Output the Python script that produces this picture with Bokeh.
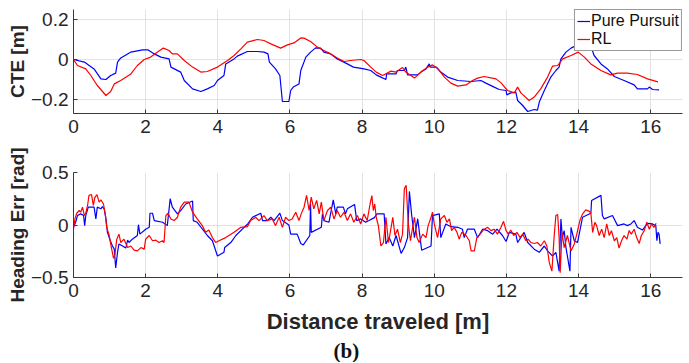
from bokeh.plotting import figure
from bokeh.layouts import column
from bokeh.models import Range1d, FixedTicker, Legend, LegendItem, Title
from bokeh.embed import file_html
from bokeh.resources import INLINE

# ---------------- data ----------------
x_ticks = [0, 2, 4, 6, 8, 10, 12, 14, 16]
x_tick_labels = ["0", "2", "4", "6", "8", "10", "12", "14", "16"]
cte_ticks = [-0.2, 0, 0.2]
cte_tick_labels = ["\u22120.2", "0", "0.2"]
he_ticks = [-0.5, 0, 0.5]
he_tick_labels = ["\u22120.5", "0", "0.5"]
series_names = ["Pure Pursuit", "RL"]

cte_pursuit = [(0, 0), (0.3, -0.013), (0.57, -0.047), (0.76, -0.097), (0.9, -0.1), (1.03, -0.08),
    (1.17, -0.068), (1.22, -0.013), (1.31, 0.008), (1.5, 0.028), (1.59, 0.037), (1.91, 0.048),
    (2.07, 0.048), (2.24, 0.028), (2.42, 0.012), (2.65, 0.003), (2.7, -0.038), (2.97, -0.063),
    (3.07, -0.105), (3.3, -0.147), (3.53, -0.16), (3.71, -0.147), (3.9, -0.13), (3.99, -0.105),
    (4.17, -0.08), (4.22, -0.022), (4.45, 0.003), (4.54, 0.017), (4.82, 0.04), (5.1, 0.04),
    (5.28, 0.037), (5.39, 0.028), (5.43, -0.013), (5.6, -0.047), (5.72, -0.08), (5.79, -0.21),
    (5.97, -0.21), (6.02, -0.155), (6.09, -0.138), (6.25, -0.122), (6.3, -0.055), (6.44, 0.012),
    (6.57, 0.037), (6.71, 0.058), (6.85, 0.057), (6.94, 0.037), (7.13, 0.028), (7.31, 0.003),
    (7.59, -0.022), (7.76, -0.038), (8.05, -0.047), (8.24, -0.055), (8.39, -0.077), (8.52, -0.088),
    (8.66, -0.1), (8.68, -0.072), (8.94, -0.072), (8.98, -0.055), (9.17, -0.055), (9.21, -0.038),
    (9.26, -0.077), (9.54, -0.077), (9.63, -0.063), (9.77, -0.047), (9.86, -0.022), (9.89, -0.038),
    (10.05, -0.038), (10.18, -0.063), (10.37, -0.088), (10.65, -0.105), (11.02, -0.11), (11.29, -0.105),
    (11.43, -0.118), (11.66, -0.138), (11.8, -0.15), (11.99, -0.155), (12.01, -0.177), (12.12, -0.167),
    (12.26, -0.163), (12.31, -0.205), (12.45, -0.23), (12.59, -0.26), (12.77, -0.25), (12.86, -0.253),
    (12.91, -0.213), (13.05, -0.155), (13.23, -0.088), (13.37, -0.055), (13.46, -0.038), (13.51, 0.003),
    (13.65, 0.037), (13.79, 0.057), (13.97, 0.073), (14.06, 0.073), (14.34, 0.067), (14.43, 0.02),
    (14.62, -0.022), (14.8, -0.047), (14.99, -0.085), (15.26, -0.105), (15.54, -0.127), (15.63, -0.147),
    (15.91, -0.147), (15.96, -0.138), (16.05, -0.15), (16.23, -0.152)]

cte_rl = [(0, 0), (0.11, -0.03), (0.34, -0.047), (0.48, -0.08), (0.66, -0.13), (0.9, -0.18),
    (1.03, -0.16), (1.13, -0.122), (1.31, -0.105), (1.59, -0.072), (1.77, -0.03), (1.96, 0),
    (2.14, 0.012), (2.33, 0.037), (2.49, 0.057), (2.65, 0.045), (2.74, 0.028), (2.88, 0.028),
    (3.07, -0.005), (3.3, -0.038), (3.53, -0.063), (3.71, -0.06), (3.99, -0.038), (4.27, -0.005),
    (4.45, 0.02), (4.64, 0.053), (4.82, 0.087), (5.1, 0.1), (5.28, 0.095), (5.47, 0.078),
    (5.74, 0.057), (5.93, 0.073), (6.11, 0.083), (6.3, 0.108), (6.39, 0.107), (6.57, 0.09),
    (6.76, 0.062), (6.94, 0.045), (7.13, 0.028), (7.31, 0.007), (7.5, -0.01), (7.68, -0.005),
    (7.96, 0), (8.05, -0.005), (8.24, -0.038), (8.39, -0.063), (8.57, -0.08), (8.8, -0.058),
    (8.94, -0.063), (9.12, -0.04), (9.21, -0.063), (9.45, -0.093), (9.63, -0.063), (9.82, -0.038),
    (9.95, -0.027), (10.09, -0.043), (10.28, -0.088), (10.46, -0.118), (10.65, -0.133), (10.88, -0.127),
    (11.06, -0.105), (11.2, -0.093), (11.38, -0.085), (11.71, -0.097), (11.85, -0.117), (12.03, -0.155),
    (12.22, -0.167), (12.31, -0.138), (12.4, -0.167), (12.63, -0.205), (12.77, -0.188), (12.95, -0.147),
    (13.14, -0.088), (13.28, -0.033), (13.42, -0.03), (13.56, 0.003), (13.79, 0.02), (13.99, 0.037),
    (14.16, 0.012), (14.34, -0.022), (14.62, -0.055), (14.89, -0.077), (15.08, -0.068), (15.35, -0.068),
    (15.63, -0.075), (15.91, -0.097), (16.2, -0.112)]

heading_pursuit = [(0, -0.02), (0.06, 0.026), (0.11, 0.09), (0.2, 0.106), (0.28, 0.09), (0.31, -0.006),
    (0.34, 0.09), (0.41, 0.17), (0.57, 0.17), (0.62, 0.058), (0.66, 0.17), (0.76, 0.154), (0.8, 0.176),
    (0.85, 0.154), (0.9, 0.058), (0.94, -0.07), (1.02, -0.15), (1.08, -0.2), (1.13, -0.23), (1.17, -0.41),
    (1.22, -0.26), (1.26, -0.18), (1.36, -0.2), (1.45, -0.22), (1.5, -0.144), (1.54, -0.167), (1.63, -0.135),
    (1.77, -0.1), (1.8, 0.003), (1.84, -0.087), (2.0, -0.04), (2.1, -0.022), (2.12, 0.112), (2.19, 0.112),
    (2.24, 0.042), (2.47, 0.026), (2.6, -0.006), (2.68, 0.25), (2.74, 0.17), (2.88, 0.106), (2.97, 0.138),
    (3.11, 0.2), (3.3, 0.228), (3.32, 0.042), (3.43, 0.026), (3.57, -0.038), (3.71, -0.1), (3.85, -0.15),
    (3.99, -0.295), (4.17, -0.26), (4.19, -0.215), (4.36, -0.167), (4.5, -0.1), (4.73, -0.022), (4.83, 0.01),
    (4.96, 0.074), (5.19, 0.112), (5.24, 0.042), (5.37, 0.042), (5.47, 0.074), (5.56, 0.042), (5.72, 0.112),
    (5.79, 0.042), (5.97, 0), (6.02, -0.087), (6.2, -0.087), (6.3, -0.176), (6.37, -0.19), (6.55, -0.1),
    (6.57, 0.2), (6.59, -0.07), (6.87, -0.022), (6.9, 0.106), (6.94, 0.042), (7.08, 0.026), (7.2, 0.24),
    (7.27, 0.106), (7.31, 0.17), (7.48, 0.17), (7.54, 0.106), (7.59, 0.154), (7.79, 0.196), (7.85, 0.042),
    (7.96, 0.058), (8.1, 0.026), (8.19, 0.042), (8.34, 0.07), (8.41, 0.106), (8.61, 0.106), (8.66, -0.18),
    (8.75, -0.12), (8.85, -0.2), (8.94, -0.1), (9.08, -0.27), (9.17, -0.215), (9.26, -0.12), (9.31, 0.32),
    (9.37, 0.106), (9.45, -0.12), (9.54, 0.058), (9.65, -0.24), (9.91, -0.2), (9.95, 0.09), (10.14, 0.106),
    (10.18, -0.12), (10.32, 0.01), (10.46, -0.016), (10.65, -0.022), (10.78, -0.04), (10.83, -0.12),
    (10.92, -0.04), (11.11, -0.04), (11.2, -0.12), (11.34, -0.04), (11.48, -0.054), (11.62, -0.087),
    (11.74, -0.04), (11.89, -0.1), (11.99, -0.157), (12.08, -0.07), (12.26, -0.087), (12.31, -0.167),
    (12.49, -0.07), (12.59, -0.167), (12.77, -0.23), (12.91, -0.26), (13.05, -0.2), (13.14, -0.247),
    (13.28, -0.295), (13.37, -0.26), (13.46, -0.44), (13.51, 0.058), (13.55, -0.12), (13.6, -0.054),
    (13.65, -0.215), (13.76, -0.44), (13.79, -0.022), (13.88, -0.15), (13.97, -0.167), (14.11, 0.074),
    (14.34, 0.112), (14.36, 0.234), (14.62, 0.282), (14.66, 0.09), (14.71, 0.058), (14.94, 0.09),
    (15.08, -0.006), (15.26, 0.01), (15.35, -0.006), (15.45, 0.01), (15.54, 0.042), (15.63, -0.022),
    (15.77, -0.048), (15.91, 0.016), (16.05, 0.01), (16.14, -0.006), (16.17, -0.15), (16.2, -0.07),
    (16.23, -0.087), (16.26, -0.18)]

heading_rl = [(0, -0.04), (0.04, 0.058), (0.09, 0.112), (0.16, 0.138), (0.2, 0.122), (0.25, 0.17),
    (0.3, 0.09), (0.34, 0.112), (0.39, 0.186), (0.43, 0.282), (0.5, 0.29), (0.55, 0.186), (0.59, 0.26),
    (0.65, 0.29), (0.71, 0.218), (0.76, 0.24), (0.83, 0.2), (0.88, 0.106), (0.92, -0.022), (0.99, -0.1),
    (1.05, -0.215), (1.11, -0.317), (1.15, -0.28), (1.2, -0.135), (1.26, -0.087), (1.31, -0.167),
    (1.4, -0.135), (1.5, -0.215), (1.59, -0.2), (1.68, -0.24), (1.77, -0.247), (1.87, -0.215),
    (1.96, -0.23), (2.0, -0.135), (2.1, -0.1), (2.19, -0.15), (2.28, -0.144), (2.37, -0.167),
    (2.47, -0.15), (2.51, -0.167), (2.56, 0.09), (2.62, 0.112), (2.7, 0.058), (2.79, 0.042),
    (2.88, 0.074), (2.97, 0.17), (3.07, 0.218), (3.2, 0.218), (3.3, 0.122), (3.43, 0.058),
    (3.57, -0.006), (3.66, -0.07), (3.75, -0.048), (3.85, -0.12), (3.94, -0.167), (4.03, -0.15),
    (4.22, -0.12), (4.45, -0.07), (4.64, -0.022), (4.82, -0.016), (4.91, 0.042), (5.05, 0.074),
    (5.14, 0.042), (5.28, 0.09), (5.37, 0.042), (5.51, 0.058), (5.6, -0.006), (5.7, 0.074),
    (5.79, -0.022), (5.88, 0.074), (5.97, 0.042), (6.06, 0.058), (6.16, 0.122), (6.25, 0.042),
    (6.31, 0.106), (6.39, 0.17), (6.46, 0.282), (6.53, 0.138), (6.59, 0.266), (6.66, 0.154),
    (6.74, 0.234), (6.81, 0.106), (6.87, 0.218), (6.94, 0.042), (7.04, 0.138), (7.13, 0.17),
    (7.22, 0.058), (7.31, 0.138), (7.4, 0.074), (7.5, 0.122), (7.59, 0.042), (7.68, 0.106),
    (7.77, 0.026), (7.87, 0.09), (7.96, 0.01), (8.05, 0.106), (8.14, 0.042), (8.22, 0.2),
    (8.27, 0.28), (8.31, 0.138), (8.35, 0.2), (8.39, 0.074), (8.45, -0.006), (8.52, -0.2),
    (8.59, -0.167), (8.66, 0.074), (8.73, -0.167), (8.78, -0.07), (8.85, 0.074), (8.91, -0.1),
    (8.98, -0.04), (9.06, -0.167), (9.12, -0.087), (9.17, 0.346), (9.22, 0.378), (9.28, 0.01),
    (9.34, -0.15), (9.4, -0.022), (9.45, 0.074), (9.52, -0.12), (9.58, -0.167), (9.68, -0.087),
    (9.77, -0.12), (9.83, -0.006), (9.91, 0.074), (9.95, 0.122), (10.0, 0.01), (10.09, -0.12),
    (10.18, 0.058), (10.28, 0.09), (10.35, 0.026), (10.42, 0.058), (10.48, -0.054), (10.55, -0.022),
    (10.63, -0.07), (10.69, -0.135), (10.76, -0.07), (10.88, -0.1), (10.97, -0.15), (11.02, -0.247),
    (11.11, -0.247), (11.18, -0.12), (11.27, -0.087), (11.38, -0.04), (11.48, -0.022), (11.57, -0.054),
    (11.66, -0.04), (11.75, -0.087), (11.85, -0.022), (11.92, 0.035), (11.99, -0.054), (12.05, -0.087),
    (12.12, -0.048), (12.2, -0.1), (12.29, -0.07), (12.38, -0.12), (12.45, -0.087), (12.54, -0.15),
    (12.6, -0.135), (12.68, -0.167), (12.77, -0.176), (12.86, -0.167), (12.95, -0.2), (13.05, -0.15),
    (13.12, -0.2), (13.19, -0.36), (13.26, -0.44), (13.32, -0.12), (13.37, 0.09), (13.42, 0.1),
    (13.46, -0.12), (13.49, -0.455), (13.54, -0.07), (13.6, -0.215), (13.69, -0.1), (13.79, -0.247),
    (13.88, -0.18), (13.95, -0.087), (14.04, 0.048), (14.11, 0.106), (14.2, 0.144), (14.3, 0.13),
    (14.34, 0.112), (14.39, -0.07), (14.45, 0.026), (14.5, -0.006), (14.57, -0.1), (14.64, -0.04),
    (14.71, -0.12), (14.78, 0.01), (14.85, -0.1), (14.91, -0.054), (14.99, -0.15), (15.06, -0.12),
    (15.12, -0.22), (15.19, -0.15), (15.26, -0.1), (15.34, -0.135), (15.4, -0.054), (15.46, -0.087),
    (15.54, -0.04), (15.61, -0.12), (15.68, -0.176), (15.74, -0.1), (15.82, -0.054), (15.89, 0.026),
    (15.96, -0.04), (16.02, 0.01), (16.09, -0.022), (16.15, 0.016)]

# ---------------- styling ----------------
FONT = "Liberation Sans"
AX = "#3a3a3a"
GRID = "#e2e2e2"
BLUE = "#0000ff"
RED = "#ff0000"
LW = 1.2


def style(p, yticks, ylabels, ylabel):
    p.outline_line_color = None
    p.xaxis.ticker = FixedTicker(ticks=x_ticks)
    p.xaxis.major_label_overrides = dict(zip(x_ticks, x_tick_labels))
    p.yaxis.ticker = FixedTicker(ticks=yticks)
    p.yaxis.major_label_overrides = dict(zip(yticks, ylabels))
    for ax in (p.xaxis[0], p.yaxis[0]):
        ax.axis_line_color = AX
        ax.axis_line_width = 1
        ax.major_tick_line_color = AX
        ax.major_tick_in = 4
        ax.major_tick_out = 0
        ax.minor_tick_line_color = None
        ax.major_label_text_font = FONT
        ax.major_label_text_font_size = "19px"
        ax.major_label_text_color = "#262626"
    p.xaxis.major_label_standoff = 6
    p.yaxis.major_label_standoff = 5
    p.yaxis.axis_label = ylabel
    p.yaxis.axis_label_text_font = FONT
    p.yaxis.axis_label_text_font_size = "19px"
    p.yaxis.axis_label_text_font_style = "bold"
    p.yaxis.axis_label_text_color = "#262626"
    p.yaxis.axis_label_standoff = 0
    p.xgrid.ticker = FixedTicker(ticks=x_ticks)
    p.ygrid.ticker = FixedTicker(ticks=yticks)
    p.xgrid.grid_line_color = GRID
    p.ygrid.grid_line_color = GRID
    p.background_fill_color = "white"
    p.border_fill_color = "white"


# top figure
p1 = figure(frame_width=609, frame_height=104, min_border_left=73, min_border_right=7,
            min_border_top=9, min_border_bottom=30,
            x_range=Range1d(0, 16.88), y_range=Range1d(-0.27, 0.25),
            output_backend="svg", toolbar_location=None)
style(p1, cte_ticks, cte_tick_labels, "CTE [m]")
r1 = p1.line([a for a, b in cte_pursuit], [b for a, b in cte_pursuit], line_color=BLUE, line_width=LW)
r2 = p1.line([a for a, b in cte_rl], [b for a, b in cte_rl], line_color=RED, line_width=LW)
leg = Legend(items=[LegendItem(label=series_names[0], renderers=[r1]),
                    LegendItem(label=series_names[1], renderers=[r2])],
             location="top_right", orientation="vertical")
leg.label_text_font = FONT
leg.label_text_font_size = "16px"
leg.label_text_color = "#111111"
leg.glyph_width = 13
leg.glyph_height = 16
leg.label_height = 16
leg.label_standoff = 1
leg.padding = 2
leg.spacing = 0
leg.margin = 0
leg.border_line_color = "#333333"
leg.border_line_width = 1
leg.background_fill_color = "white"
leg.background_fill_alpha = 1
p1.add_layout(leg)

# bottom figure
p2 = figure(frame_width=609, frame_height=105, min_border_left=73, min_border_right=7,
            min_border_top=29, min_border_bottom=0,
            x_range=Range1d(0, 16.88), y_range=Range1d(-0.5, 0.5),
            output_backend="svg", toolbar_location=None)
style(p2, he_ticks, he_tick_labels, "Heading Err [rad]")
p2.line([a for a, b in heading_pursuit], [b for a, b in heading_pursuit], line_color=BLUE, line_width=LW)
p2.line([a for a, b in heading_rl], [b for a, b in heading_rl], line_color=RED, line_width=LW)
p2.xaxis.axis_label = "Distance traveled [m]"
p2.xaxis.axis_label_text_font = FONT
p2.xaxis.axis_label_text_font_size = "22px"
p2.xaxis.axis_label_text_font_style = "bold"
p2.xaxis.axis_label_text_color = "#262626"
p2.xaxis.axis_label_standoff = 9
p2.add_layout(Title(text="(b)", align="left", offset=260, standoff=0,
                    text_font="Liberation Serif", text_font_size="21px",
                    text_font_style="bold", text_color="#111111"), "below")

layout = column(p1, p2, spacing=0)
open("out.html", "w").write(file_html(layout, INLINE))
